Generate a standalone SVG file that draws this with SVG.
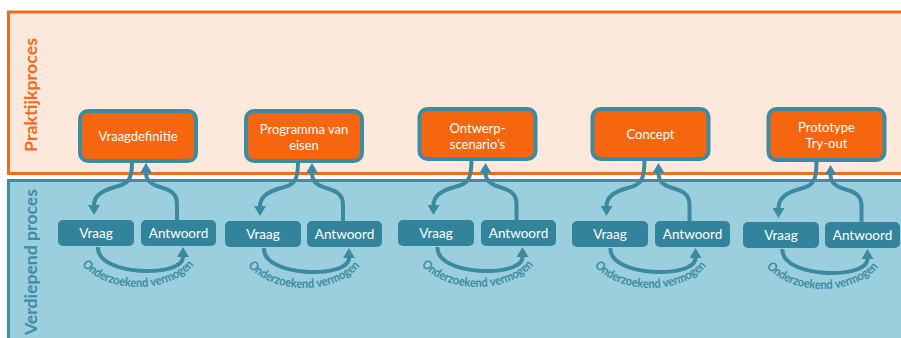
<svg xmlns="http://www.w3.org/2000/svg" xmlns:xlink="http://www.w3.org/1999/xlink" width="901" height="338" viewBox="0 0 901 338">
<style>
.fo{fill:#FCE9DB;stroke:#F26B1D;stroke-width:3}
.fb{fill:#9BCFDE;stroke:#3D8FA6;stroke-width:3}
.nb{fill:#F5660F;stroke:#3A8BA3;stroke-width:4}
.nt{fill:#FFFFFF;font-family:Lato,"Open Sans",sans-serif;font-size:13px;text-anchor:middle}
.qb{fill:#31849B}
.qt{fill:#FFFFFF;font-family:Lato,"Open Sans",sans-serif;font-size:13.5px;text-anchor:middle}
.c{fill:none;stroke:#3A8AA1;stroke-width:4;marker-end:url(#ah)}
.ct{fill:#3A8AA1;font-family:Lato,"Open Sans",sans-serif;font-weight:bold;font-size:12.5px;text-anchor:middle}
.lbl{font-family:Lato,"Open Sans",sans-serif;font-weight:bold;font-size:17.5px}
</style>
<defs>
<marker id="ah" markerUnits="userSpaceOnUse" markerWidth="10" markerHeight="12" viewBox="0 0 10 12" refX="0" refY="6" orient="auto">
<path d="M0,0 L10,6 L0,12 z" fill="#3A8AA1"/>
</marker>
<path id="arc" d="M-64,244 A64,43 0 0 0 64,244" fill="none"/>
</defs>

<rect class="fo" x="8.5" y="12" width="900" height="161.5"/>
<rect class="fb" x="8.5" y="180.5" width="900" height="170"/>
<text class="lbl" fill="#F26B1D" transform="translate(36.5,95) rotate(-90)" text-anchor="middle" textLength="114" lengthAdjust="spacingAndGlyphs">Praktijkproces</text>
<text class="lbl" fill="#3C8DA5" transform="translate(36.5,189) rotate(-90)" text-anchor="end" textLength="146" lengthAdjust="spacingAndGlyphs">Verdiepend proces</text>

<g id="connectors">
<g transform="translate(138,0)">
<path class="c" d="M-6,163 C-6,180 -10,184 -23,187 C-38,191 -44,198 -44,205"/>
<path class="c" d="M39,220 L39,204 C39,193 32,190 22,187 C12,184 8,180 8,173"/>
<path class="c" d="M-40,247 C-42,276 45,278 45,257"/>
<text class="ct"><textPath xlink:href="#arc" href="#arc" startOffset="50%" textLength="124" lengthAdjust="spacingAndGlyphs">Onderzoekend vermogen</textPath></text>
</g>
<g transform="translate(304,1)">
<path class="c" d="M-6,162 C-6,180 -10,184 -23,187 C-38,191 -44,198 -44,205"/>
<path class="c" d="M39,221 L39,204 C39,193 32,190 22,187 C12,184 8,180 8,172"/>
<path class="c" d="M-40,247 C-42,276 45,278 45,257"/>
<text class="ct"><textPath xlink:href="#arc" href="#arc" startOffset="50%" textLength="124" lengthAdjust="spacingAndGlyphs">Onderzoekend vermogen</textPath></text>
</g>
<g transform="translate(477.5,0)">
<path class="c" d="M-6,160 C-6,180 -10,184 -23,187 C-38,191 -44,198 -44,205"/>
<path class="c" d="M39,220 L39,204 C39,193 32,190 22,187 C12,184 8,180 8,173"/>
<path class="c" d="M-40,247 C-42,276 45,278 45,257"/>
<text class="ct"><textPath xlink:href="#arc" href="#arc" startOffset="50%" textLength="124" lengthAdjust="spacingAndGlyphs">Onderzoekend vermogen</textPath></text>
</g>
<g transform="translate(650.5,1)">
<path class="c" d="M-6,159 C-6,180 -10,184 -23,187 C-38,191 -44,198 -44,205"/>
<path class="c" d="M39,221 L39,204 C39,193 32,190 22,187 C12,184 8,180 8,172"/>
<path class="c" d="M-40,247 C-42,276 45,278 45,257"/>
<text class="ct"><textPath xlink:href="#arc" href="#arc" startOffset="50%" textLength="124" lengthAdjust="spacingAndGlyphs">Onderzoekend vermogen</textPath></text>
</g>
<g transform="translate(822.5,2)">
<path class="c" d="M-6,160 C-6,180 -10,184 -23,187 C-38,191 -44,198 -44,206"/>
<path class="c" d="M39,221 L39,204 C39,193 32,190 22,187 C12,184 8,180 8,173"/>
<path class="c" d="M-40,247 C-42,276 45,278 45,257"/>
<text class="ct"><textPath xlink:href="#arc" href="#arc" startOffset="50%" textLength="124" lengthAdjust="spacingAndGlyphs">Onderzoekend vermogen</textPath></text>
</g>
</g>

<g id="node-vraagdefinitie">
<rect class="nb" x="80" y="111" width="116" height="50" rx="8"/>
<text class="nt" x="138" y="140.5">Vraagdefinitie</text>
</g>
<g id="node-programma">
<rect class="nb" x="246" y="111" width="116" height="50" rx="8"/>
<text class="nt" x="304" y="133.5">Programma van</text>
<text class="nt" x="304" y="149.5">eisen</text>
</g>
<g id="node-ontwerp">
<rect class="nb" x="419.5" y="109" width="116" height="50" rx="8"/>
<text class="nt" x="477.5" y="132.5">Ontwerp-</text>
<text class="nt" x="477.5" y="148.5">scenario’s</text>
</g>
<g id="node-concept">
<rect class="nb" x="592.5" y="109" width="116" height="50" rx="8"/>
<text class="nt" x="650.5" y="138.5">Concept</text>
</g>
<g id="node-prototype">
<rect class="nb" x="768.5" y="109" width="116" height="51" rx="8"/>
<text class="nt" x="826.5" y="132">Prototype</text>
<text class="nt" x="826.5" y="148">Try-out</text>
</g>

<g id="vraag-1"><rect class="qb" x="58" y="220" width="76" height="26" rx="5"/><text class="qt" x="96" y="237.5">Vraag</text></g>
<g id="antwoord-1"><rect class="qb" x="141" y="220" width="75" height="26" rx="5"/><text class="qt" x="178.5" y="237.5">Antwoord</text></g>
<g id="vraag-2"><rect class="qb" x="225" y="221" width="76" height="26" rx="5"/><text class="qt" x="263" y="238.5">Vraag</text></g>
<g id="antwoord-2"><rect class="qb" x="307" y="221" width="75" height="26" rx="5"/><text class="qt" x="344.5" y="238.5">Antwoord</text></g>
<g id="vraag-3"><rect class="qb" x="398" y="220" width="76" height="26" rx="5"/><text class="qt" x="436" y="237.5">Vraag</text></g>
<g id="antwoord-3"><rect class="qb" x="481" y="220" width="75" height="26" rx="5"/><text class="qt" x="518.5" y="237.5">Antwoord</text></g>
<g id="vraag-4"><rect class="qb" x="572" y="221" width="76" height="26" rx="5"/><text class="qt" x="610" y="238.5">Vraag</text></g>
<g id="antwoord-4"><rect class="qb" x="655" y="221" width="75" height="26" rx="5"/><text class="qt" x="692.5" y="238.5">Antwoord</text></g>
<g id="vraag-5"><rect class="qb" x="743" y="222" width="76" height="26" rx="5"/><text class="qt" x="781" y="239.5">Vraag</text></g>
<g id="antwoord-5"><rect class="qb" x="825" y="222" width="75" height="26" rx="5"/><text class="qt" x="862.5" y="239.5">Antwoord</text></g>
</svg>
